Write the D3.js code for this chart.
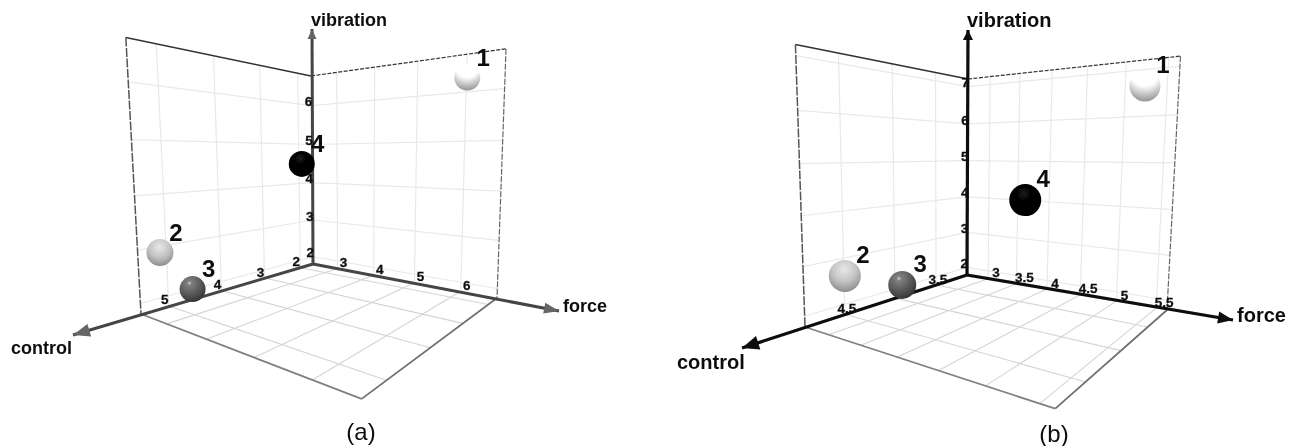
<!DOCTYPE html>
<html>
<head>
<meta charset="utf-8">
<script src="https://cdn.jsdelivr.net/npm/d3@7"></script>
<style>
  html, body { margin: 0; padding: 0; background: #fff; }
  svg { display: block; }
  text { font-family: "Liberation Sans", Arial, sans-serif; fill: #111; }
</style>
</head>
<body>
<div id="chart"></div>
<script>
// values
const pointLabels = ['1', '2', '3', '4'];

const forceA = [6.2, 2.7, 2.47, 3.6];
const controlA = [2.0, 5.34, 4.7, 3.23];
const vibrationA = [6.2, 3.0, 2.09, 4.54];

const forceB = [5.32, 2.9, 2.75, 3.96];
const controlB = [3.2, 4.64, 4.01, 3.4];
const vibrationB = [6.59, 2.78, 2.15, 4.12];

const forceTicksA = [3, 4, 5, 6];
const controlTicksA = [2, 3, 4, 5];
const vibrationTicksA = [2, 3, 4, 5, 6];

const forceTicksB = [3, 3.5, 4, 4.5, 5, 5.5];
const controlTicksB = [3.5, 4, 4.5];
const vibrationTicksB = [2, 3, 4, 5, 6, 7];

const zip = (f, c, v) => pointLabels.map((label, i) => ({ label, force: f[i], control: c[i], vibration: v[i] }));

// solves k1*a + k2*b = c for two 2d vectors
function solve2(a, b, c) {
  const det = a[0] * b[1] - b[0] * a[1];
  return [(c[0] * b[1] - b[0] * c[1]) / det, (a[0] * c[1] - c[0] * a[1]) / det];
}
const sub = (p, q) => [p[0] - q[0], p[1] - q[1]];

class Box3D {

  constructor(_config, _data) {
    this.config = _config;
    this.data = _data;
    this.initVis();
  }

  initVis() {
    let vis = this;
    const c = vis.config;

    vis.xScale = d3.scaleLinear().domain(c.forceDomain).range([0, 1]);
    vis.yScale = d3.scaleLinear().domain(c.controlDomain).range([0, 1]);
    vis.zScale = d3.scaleLinear().domain(c.vibrationDomain).range([0, 1]);

    // weights of the perspective camera, fitted to the corners of the box
    const O = c.origin, A = c.forceEnd, B = c.controlEnd, C = c.vibrationEnd;
    const floor = solve2(sub(A, c.floorCorner), sub(B, c.floorCorner), sub(O, c.floorCorner));
    const right = solve2(sub(A, c.rightTop), sub(C, c.rightTop), sub(O, c.rightTop));
    const left = solve2(sub(B, c.leftTop), sub(C, c.leftTop), sub(O, c.leftTop));
    vis.k = [(floor[0] + right[0]) / 2, (floor[1] + left[0]) / 2, (right[1] + left[1]) / 2];

    vis.g = c.parent.append('g').attr('filter', 'url(#soft)');
    vis.line = d3.line().x(d => d[0]).y(d => d[1]);

    vis.renderVis();
  }

  // unit box coordinates to the screen
  project(u, v, w) {
    let vis = this;
    const c = vis.config, O = c.origin;
    const ends = [c.forceEnd, c.controlEnd, c.vibrationEnd];
    const weights = [u, v, w];
    let X = O[0], Y = O[1], W = 1;
    ends.forEach((e, i) => {
      X += weights[i] * (vis.k[i] * e[0] - O[0]);
      Y += weights[i] * (vis.k[i] * e[1] - O[1]);
      W += weights[i] * (vis.k[i] - 1);
    });
    return [X / W, Y / W];
  }

  segment(from, to, stroke, width, dash) {
    let vis = this;
    vis.g.append('path')
      .attr('d', vis.line([vis.project(...from), vis.project(...to)]))
      .attr('fill', 'none')
      .attr('stroke', stroke)
      .attr('stroke-width', width)
      .attr('stroke-dasharray', dash || null);
  }

  arrow(tip, size, color) {
    let vis = this;
    const O = vis.config.origin;
    const len = Math.hypot(tip[0] - O[0], tip[1] - O[1]);
    const ux = (tip[0] - O[0]) / len, uy = (tip[1] - O[1]) / len;
    const bx = tip[0] - ux * size[0], by = tip[1] - uy * size[0];
    vis.g.append('path')
      .attr('d', `M${tip}L${bx - uy * size[1] / 2},${by + ux * size[1] / 2}L${bx + uy * size[1] / 2},${by - ux * size[1] / 2}Z`)
      .attr('fill', color);
  }

  renderVis() {
    let vis = this;
    const c = vis.config;
    const gridWall = '#e9e9e9', gridFloor = '#d4d4d4';

    // walls
    c.forceTicks.forEach(t => vis.segment([vis.xScale(t), 0, 0], [vis.xScale(t), 0, 1], gridWall, 1.2));
    c.controlTicks.forEach(t => vis.segment([0, vis.yScale(t), 0], [0, vis.yScale(t), 1], gridWall, 1.2));
    c.vibrationTicks.forEach(t => {
      vis.segment([0, 0, vis.zScale(t)], [1, 0, vis.zScale(t)], gridWall, 1.2);
      vis.segment([0, 0, vis.zScale(t)], [0, 1, vis.zScale(t)], gridWall, 1.2);
    });

    // floor
    c.forceTicks.forEach(t => vis.segment([vis.xScale(t), 0, 0], [vis.xScale(t), 1, 0], gridFloor, 1.1));
    c.controlTicks.forEach(t => vis.segment([0, vis.yScale(t), 0], [1, vis.yScale(t), 0], gridFloor, 1.1));

    // box outline
    vis.segment([0, 0, 1], [0, 1, 1], '#333', 1.6);
    vis.segment([0, 1, 1], [0, 1, 0], '#555', 1.5, '9 1.5');
    vis.segment([0, 0, 1], [1, 0, 1], '#333', 1.2, '4 1.5');
    vis.segment([1, 0, 1], [1, 0, 0], '#666', 1.2, '6 1.5');
    vis.segment([0, 1, 0], [1, 1, 0], '#808080', 1.8);
    vis.segment([1, 1, 0], [1, 0, 0], '#707070', 1.8);

    // axes
    [c.forceTip, c.controlTip, c.vibrationTip].forEach(tip => {
      vis.g.append('path')
        .attr('d', vis.line([c.origin, tip]))
        .attr('stroke', c.axisColor).attr('stroke-width', c.axisWidth).attr('fill', 'none');
    });
    vis.arrow(c.forceTip, c.arrowForce, c.arrowColor);
    vis.arrow(c.controlTip, c.arrowControl, c.arrowColor);
    vis.arrow(c.vibrationTip, c.arrowVibration, c.arrowColor);

    // tick labels
    const tickLabel = (p, dx, dy, t, anchor) => vis.g.append('text')
      .attr('x', p[0] + dx).attr('y', p[1] + dy)
      .attr('text-anchor', anchor || 'middle')
      .attr('dominant-baseline', 'middle')
      .attr('font-size', 13.5).attr('font-weight', 'bold')
      .attr('stroke', '#111').attr('stroke-width', 0.3)
      .text(t);
    c.forceTicks.forEach(t => tickLabel(vis.project(vis.xScale(t), 0, 0), c.forceTickOffset[0], c.forceTickOffset[1], t));
    c.controlTicks.forEach(t => tickLabel(vis.project(0, vis.yScale(t), 0), c.controlTickOffset[0], c.controlTickOffset[1], t));
    c.vibrationTicks.forEach(t => tickLabel(vis.project(0, 0, vis.zScale(t)), 1, -3, t, 'end'));

    // spheres
    vis.data.forEach((d, i) => {
      const p = vis.project(vis.xScale(d.force), vis.yScale(d.control), vis.zScale(d.vibration));
      vis.g.append('circle')
        .attr('cx', p[0]).attr('cy', p[1])
        .attr('r', c.radius[i])
        .attr('fill', `url(#sphere${i})`);
      vis.g.append('text')
        .attr('x', p[0] + c.labelOffset[0]).attr('y', p[1] + c.labelOffset[1])
        .attr('text-anchor', 'middle')
        .attr('font-size', 24).attr('font-weight', 'bold')
        .text(d.label);
    });

    // axis titles and caption
    const title = (pos, t) => vis.g.append('text')
      .attr('x', pos[0]).attr('y', pos[1])
      .attr('font-size', c.titleSize).attr('font-weight', 'bold')
      .text(t);
    title(c.forceTitle, 'force');
    title(c.controlTitle, 'control');
    title(c.vibrationTitle, 'vibration');

    vis.g.append('text')
      .attr('x', c.captionPos[0]).attr('y', c.captionPos[1])
      .attr('text-anchor', 'middle')
      .attr('font-size', 24)
      .text(c.caption);
  }
}

const svg = d3.select('#chart').append('svg').attr('width', 1292).attr('height', 446);
const defs = svg.append('defs');

defs.append('filter').attr('id', 'soft')
  .attr('filterUnits', 'userSpaceOnUse')
  .attr('x', 0).attr('y', 0).attr('width', 1292).attr('height', 446)
  .append('feGaussianBlur').attr('stdDeviation', 0.4);

// sphere shading, one gradient per point
const sphereShades = [
  { cx: 0.5, cy: 0.05, r: 1.0, stops: [[0, '#ffffff'], [0.45, '#ffffff'], [0.72, '#c4c4c4'], [1, '#8a8a8a']] },
  { cx: 0.48, cy: 0.3, r: 0.75, stops: [[0, '#e8e8e8'], [0.5, '#c4c4c4'], [0.85, '#989898'], [1, '#808080']] },
  { cx: 0.38, cy: 0.27, r: 0.8, stops: [[0, '#d8d8d8'], [0.1, '#808080'], [0.55, '#585858'], [1, '#2f2f2f']] },
  { cx: 0.45, cy: 0.3, r: 0.75, stops: [[0, '#1c1c1c'], [0.25, '#060606'], [1, '#000000']] }
];
sphereShades.forEach((s, i) => {
  const grad = defs.append('radialGradient').attr('id', `sphere${i}`)
    .attr('cx', s.cx).attr('cy', s.cy).attr('r', s.r);
  s.stops.forEach(st => grad.append('stop').attr('offset', st[0]).attr('stop-color', st[1]));
});

new Box3D({
  parent: svg,
  origin: [313, 264], forceEnd: [497, 298], controlEnd: [141, 314], vibrationEnd: [311, 76],
  floorCorner: [361, 401], rightTop: [507, 51], leftTop: [127, 39],
  forceTip: [559, 311], controlTip: [73, 335], vibrationTip: [312, 29],
  forceDomain: [2.25, 6.7], controlDomain: [1.6, 5.45], vibrationDomain: [1.8, 6.75],
  forceTicks: forceTicksA, controlTicks: controlTicksA, vibrationTicks: vibrationTicksA,
  forceTickOffset: [6, -5], controlTickOffset: [-4, -5],
  axisColor: '#444', arrowColor: '#666', axisWidth: 3,
  arrowForce: [15, 11], arrowControl: [17, 13], arrowVibration: [10, 9],
  radius: [13, 13.5, 13, 13], labelOffset: [16, -12],
  titleSize: 18, forceTitle: [563, 312], controlTitle: [11, 354], vibrationTitle: [311, 26],
  caption: '(a)', captionPos: [361, 440]
}, zip(forceA, controlA, vibrationA));

new Box3D({
  parent: svg,
  origin: [967, 275], forceEnd: [1167, 310], controlEnd: [805, 327], vibrationEnd: [968, 79],
  floorCorner: [1054, 408], rightTop: [1179, 56], leftTop: [794, 43],
  forceTip: [1233, 320], controlTip: [742, 348], vibrationTip: [968, 30],
  forceDomain: [2.6, 5.63], controlDomain: [3.05, 4.83], vibrationDomain: [1.78, 7.2],
  forceTicks: forceTicksB, controlTicks: controlTicksB, vibrationTicks: vibrationTicksB,
  forceTickOffset: [8, -5], controlTickOffset: [2, -5],
  axisColor: '#0a0a0a', arrowColor: '#0a0a0a', axisWidth: 3.2,
  arrowForce: [15, 12], arrowControl: [17, 14], arrowVibration: [10, 10],
  radius: [15.5, 16, 14, 16], labelOffset: [18, -13],
  titleSize: 20, forceTitle: [1237, 322], controlTitle: [677, 369], vibrationTitle: [967, 27],
  caption: '(b)', captionPos: [1054, 442]
}, zip(forceB, controlB, vibrationB));
</script>
</body>
</html>
